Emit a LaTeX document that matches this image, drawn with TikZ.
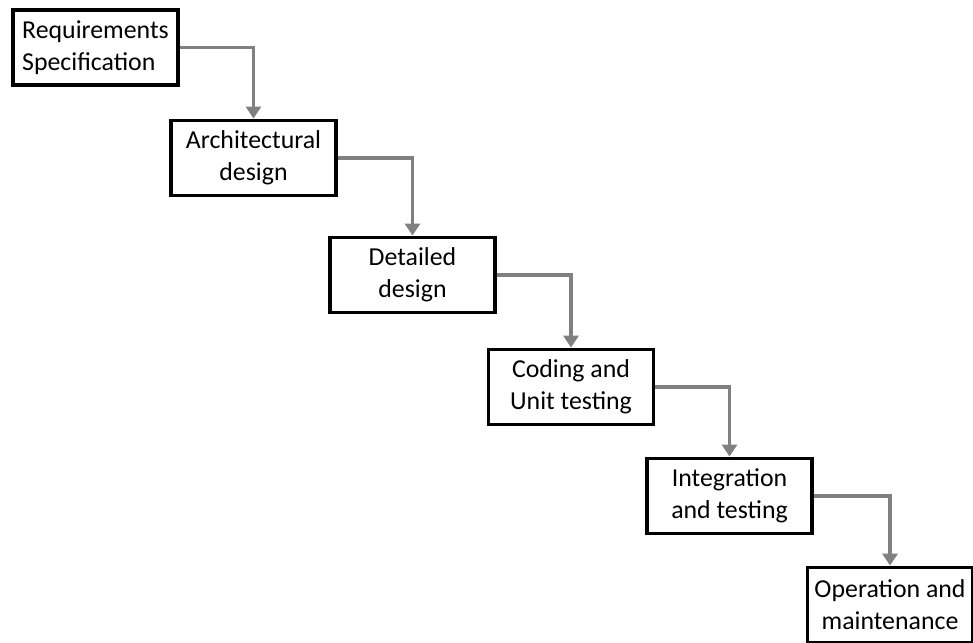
\documentclass[tikz,border=0pt]{standalone}
\usepackage{fontspec}
\setmainfont{Carlito}
\usetikzlibrary{arrows.meta}
\tikzset{
  phase/.style={draw=black, line width=2.2pt, fill=white, inner sep=0pt,
    minimum width=3.3cm, minimum height=1.5cm, align=center,
    font=\fontsize{14.7}{18.2}\selectfont},
  flow/.style={draw=gray, line width=2.2pt,
    -{Triangle[width=0.3cm, length=0.24cm]}}
}
\begin{document}
\begin{tikzpicture}[x=0.02cm, y=-0.02cm]
    \useasboundingbox (0,0) rectangle (973,642);
    \node[phase, align=left] (req) at (95.5,47.5) {Requirements\\Specification};
    \node[phase] (arch) at (253.5,158) {Architectural\\design};
    \node[phase] (det) at (412.5,275) {Detailed\\design};
    \node[phase] (code) at (571,387) {Coding and\\Unit testing};
    \node[phase] (integ) at (729.5,496) {Integration\\and testing};
    \node[phase] (oper) at (890,605) {Operation and\\maintenance};
    \draw[flow] (req.east) -| (arch.north);
    \draw[flow] (arch.east) -| (det.north);
    \draw[flow] (det.east) -| (code.north);
    \draw[flow] (code.east) -| (integ.north);
    \draw[flow] (integ.east) -| (oper.north);
  \end{tikzpicture}
\end{document}
